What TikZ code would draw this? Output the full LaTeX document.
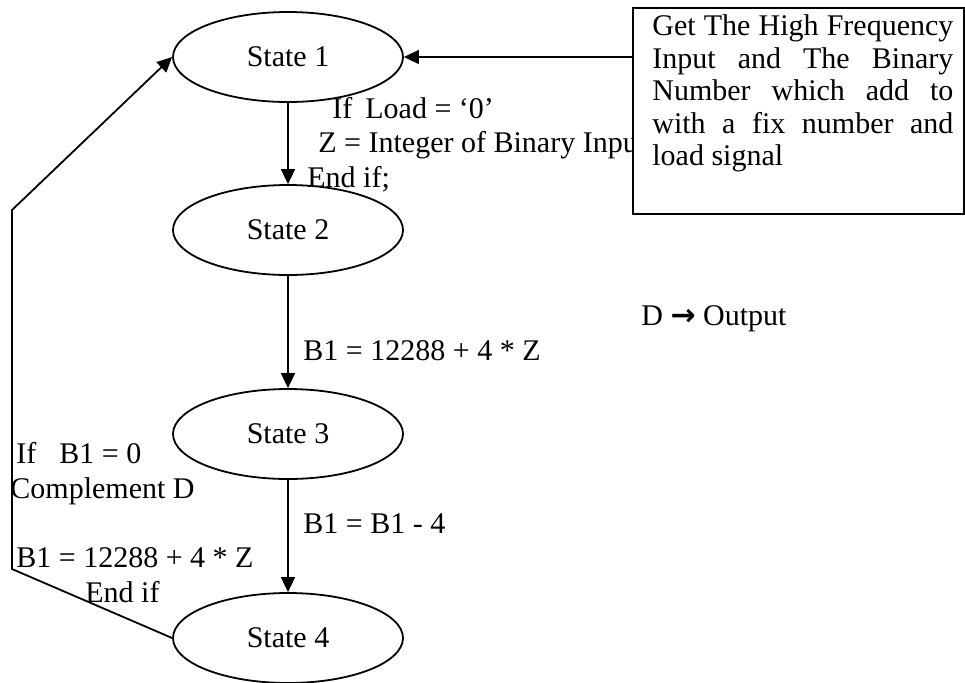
\documentclass[tikz,border=0pt]{standalone}
\usepackage{fontspec}
\setmainfont{Liberation Serif}
\newfontfamily\arrowfont{DejaVu Sans}
\usetikzlibrary{shapes.geometric, arrows.meta}
\tikzstyle{flow} = [line width=0.9pt, -{Triangle[length=7.5pt, width=7pt]}]

\begin{document}
\begin{tikzpicture}[
    x=0.5pt, y=-0.5pt,
    font=\fontsize{15}{17.5}\selectfont,
    state/.style={ellipse, draw, line width=0.9pt, minimum width=115pt, minimum height=45pt, inner sep=0pt},
    lbl/.style={anchor=base west, inner sep=0pt},
    taskbox/.style={draw, fill=white, line width=0.9pt, anchor=north west, minimum width=165.5pt, minimum height=103pt},
    tasktext/.style={anchor=north west, inner sep=0pt, text width=150.5pt, align=justify, font=\fontsize{15}{16.25}\selectfont},
  ]
  \useasboundingbox (0,0) rectangle (965,682);

  % states
  \node[state] (s1) at (288,57) {State 1};
  \node[state] (s2) at (288,230) {State 2};
  \node[state] (s3) at (288,434) {State 3};
  \node[state] (s4) at (288,638) {State 4};

  % transition labels
  \node[lbl] (ifload) at (332,118) {If\hspace{6.5pt}Load = ‘0’};
  \node[lbl] (zint) at (318,152) {Z = Integer of Binary Input};
  \node[lbl] (endif1) at (307,187) {End if;};
  \node[lbl] (binit) at (303,360) {B1 = 12288 + 4 * Z};
  \node[lbl] (bdec) at (303,533) {B1 = B1 - 4};
  \node[lbl] (ifzero) at (16,463) {If\hspace{11.5pt}B1 = 0};
  \node[lbl] (compd) at (10,498) {Complement D};
  \node[lbl] (breset) at (16,567) {B1 = 12288 + 4 * Z};
  \node[lbl] (endif2) at (85,602) {End if};
  \node[lbl] (dout) at (641,325) {D {\arrowfont\bfseries →} Output};

  % input box
  \node[taskbox] (task) at (632,7) {};
  \node[tasktext] (tasktxt) at (652,14.5) {\tolerance=10000\hyphenpenalty=10000 Get The High Frequency Input and The Binary Number which add to with a fix number and load signal};

  % connectors
  \coordinate (lowbend) at (12,569);
  \coordinate (highbend) at (12,210);
  \draw[flow] (task.west |- s1.east) -- (s1.east);
  \draw[flow] (s1) -- (s2);
  \draw[flow] (s2) -- (s3);
  \draw[flow] (s3) -- (s4);
  \draw[flow] (s4.west) -- (lowbend) -- (highbend) -- (s1.west);
\end{tikzpicture}
\end{document}
